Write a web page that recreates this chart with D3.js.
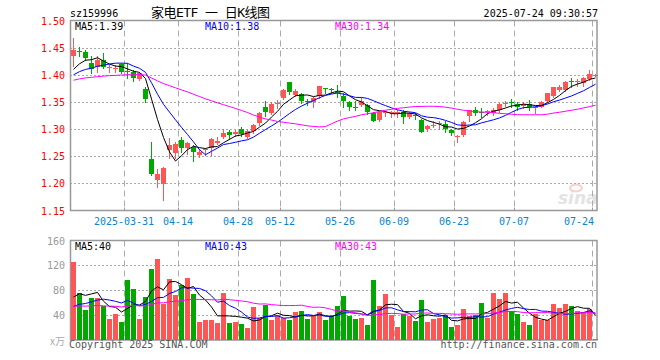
<!DOCTYPE html>
<html><head><meta charset="utf-8">
<script src="https://cdn.jsdelivr.net/npm/d3@7"></script>
<style>body{margin:0;background:#fff}svg{display:block}</style>
</head><body>
<svg id="c" width="660" height="360"></svg>
<script>
// ---------- data ----------
const dates = ["2025-03-18","2025-03-19","2025-03-20","2025-03-21","2025-03-24","2025-03-25","2025-03-26","2025-03-27","2025-03-28","2025-03-31",
"2025-04-01","2025-04-02","2025-04-03","2025-04-07","2025-04-08","2025-04-09","2025-04-10","2025-04-11","2025-04-14","2025-04-15",
"2025-04-16","2025-04-17","2025-04-18","2025-04-21","2025-04-22","2025-04-23","2025-04-24","2025-04-25","2025-04-28","2025-04-29",
"2025-04-30","2025-05-06","2025-05-07","2025-05-08","2025-05-09","2025-05-12","2025-05-13","2025-05-14","2025-05-15","2025-05-16",
"2025-05-19","2025-05-20","2025-05-21","2025-05-22","2025-05-23","2025-05-26","2025-05-27","2025-05-28","2025-05-29","2025-05-30",
"2025-06-03","2025-06-04","2025-06-05","2025-06-06","2025-06-09","2025-06-10","2025-06-11","2025-06-12","2025-06-13","2025-06-16",
"2025-06-17","2025-06-18","2025-06-19","2025-06-20","2025-06-23","2025-06-24","2025-06-25","2025-06-26","2025-06-27","2025-06-30",
"2025-07-01","2025-07-02","2025-07-03","2025-07-04","2025-07-07","2025-07-08","2025-07-09","2025-07-10","2025-07-11","2025-07-14",
"2025-07-15","2025-07-16","2025-07-17","2025-07-18","2025-07-21","2025-07-22","2025-07-23","2025-07-24"];
const opens = [1.434,1.444,1.442,1.422,1.415,1.428,1.412,1.412,1.419,1.407,
1.406,1.392,1.373,1.245,1.207,1.198,1.261,1.256,1.279,1.266,
1.267,1.252,1.261,1.266,1.274,1.285,1.295,1.290,1.301,1.286,
1.297,1.311,1.341,1.330,1.346,1.358,1.387,1.363,1.365,1.352,
1.349,1.360,1.375,1.373,1.368,1.360,1.349,1.340,1.344,1.344,
1.330,1.317,1.329,1.330,1.330,1.332,1.323,1.326,1.317,1.300,
1.306,1.311,1.310,1.299,1.286,1.289,1.324,1.335,1.331,1.333,
1.329,1.335,1.347,1.350,1.347,1.343,1.347,1.340,1.341,1.351,
1.361,1.372,1.372,1.388,1.387,1.385,1.392,1.399];
const highs = [1.467,1.452,1.445,1.434,1.434,1.440,1.418,1.418,1.422,1.422,
1.409,1.406,1.378,1.277,1.227,1.230,1.283,1.276,1.286,1.277,
1.270,1.264,1.266,1.283,1.286,1.301,1.299,1.299,1.304,1.298,
1.310,1.331,1.351,1.349,1.354,1.373,1.387,1.373,1.366,1.356,
1.359,1.380,1.3755,1.375,1.381,1.366,1.351,1.352,1.359,1.347,
1.332,1.333,1.334,1.334,1.335,1.335,1.332,1.329,1.318,1.307,
1.314,1.314,1.314,1.301,1.289,1.315,1.336,1.341,1.338,1.336,
1.338,1.348,1.352,1.355,1.349,1.349,1.354,1.343,1.351,1.367,
1.377,1.381,1.388,1.394,1.392,1.395,1.409,1.402];
const lows = [1.417,1.434,1.428,1.403,1.406,1.412,1.406,1.405,1.403,1.394,
1.388,1.390,1.349,1.216,1.193,1.169,1.246,1.246,1.258,1.255,
1.241,1.249,1.252,1.252,1.273,1.283,1.281,1.288,1.287,1.283,
1.293,1.307,1.324,1.328,1.338,1.356,1.365,1.361,1.348,1.345,
1.340,1.357,1.366,1.366,1.359,1.341,1.336,1.336,1.343,1.328,
1.314,1.315,1.324,1.323,1.323,1.312,1.320,1.318,1.295,1.297,
1.304,1.301,1.295,1.289,1.277,1.287,1.315,1.326,1.323,1.326,
1.326,1.332,1.343,1.341,1.336,1.339,1.335,1.330,1.340,1.349,
1.359,1.370,1.371,1.377,1.380,1.380,1.391,1.397];
const closes = [1.445,1.443,1.431,1.410,1.428,1.415,1.414,1.413,1.406,1.406,
1.394,1.403,1.356,1.218,1.218,1.228,1.270,1.272,1.266,1.275,
1.258,1.258,1.264,1.281,1.278,1.293,1.289,1.295,1.291,1.296,
1.307,1.329,1.332,1.347,1.348,1.372,1.369,1.371,1.352,1.350,
1.357,1.380,1.374,1.372,1.367,1.351,1.341,1.3395,1.351,1.332,
1.315,1.332,1.332,1.331,1.331,1.323,1.329,1.325,1.295,1.306,
1.307,1.312,1.301,1.293,1.287,1.313,1.335,1.330,1.330,1.334,
1.336,1.346,1.348,1.349,1.340,1.347,1.340,1.341,1.349,1.366,
1.377,1.377,1.386,1.387,1.388,1.394,1.402,1.400];
const volumes = [125,75.7,48,67,67,54,33.6,41.6,28.8,96,
81.6,33.6,69,113.6,129.6,57.6,97.6,72,88,99,
73.6,28.8,32,32,27,75,27,28.8,25.6,19,
52.8,35,56,32,40,36,32,44.8,46.4,33.6,
38.4,44.8,32,38,54,70,38,33.6,35,24,
96,54,73.6,40,20.8,41.6,38.4,30,64,28.8,
33.6,35,40,20.8,24,49.6,38.4,40,59,35,
75,65.6,75,46.4,41.6,28.8,24,41.6,32,32,
57.6,51,57.6,55,47,45,50,1.6];
// closes / volumes of the 29 sessions before the window (estimated from the MA curves)
const priorCloses = [1.37,1.375,1.38,1.39,1.385,1.39,1.395,1.39,1.385,1.40,
1.39,1.385,1.38,1.375,1.38,1.385,1.39,1.38,1.385,1.39,
1.385,1.39,1.388,1.392,1.395,1.392,1.398,1.405,1.41];
const priorVolumes = [50,62,48,55,70,45,52,60,58,47,53,66,49,51,57,44,50,62,48,53,
42,35,40,38,40,48,62,55,55];
const tickDates = ["2025-03-31","2025-04-14","2025-04-28","2025-05-12","2025-05-26","2025-06-09","2025-06-23","2025-07-07","2025-07-24"];
const tickLabels = ["2025-03-31","04-14","04-28","05-12","05-26","06-09","06-23","07-07","07-24"];
const priceTicks = [1.15,1.20,1.25,1.30,1.35,1.40,1.45,1.50];
const volTicks = [40,80,120,160];
const maPeriods = [5,10,30];
const maColors = ["#000000","#0000ff","#ff00ff"];

// ---------- layout ----------
const svg = d3.select("#c");
const L = 70, R = 598;
const P_TOP = 20.5, P_BOT = 210.5, V_TOP = 240.5, V_BOT = 340;
const RED = "#ff5555", GREEN = "#00a800";
const MONO = "'DejaVu Sans Mono', monospace";

const x = d3.scaleBand().domain(d3.range(dates.length)).range([L, R]).padding(0);
const bw = x.bandwidth();
const y = d3.scaleLinear().domain([1.15, 1.50]).range([P_BOT, P_TOP]);
const yv = d3.scaleLinear().domain([0, 160]).range([V_BOT, V_TOP]);

function movingAvg(prior, vals, n) {
  const all = prior.concat(vals), off = prior.length;
  return vals.map((_, i) => d3.mean(all.slice(off + i - n + 1, off + i + 1)));
}
const priceMA = maPeriods.map(n => movingAvg(priorCloses, closes, n));
const volMA = maPeriods.map(n => movingAvg(priorVolumes, volumes, n));

svg.append("rect").attr("width",660).attr("height",360).attr("fill","#fff");

// watermark
const wm = svg.append("g").attr("opacity",0.5);
wm.append("text").attr("x",558).attr("y",204).attr("font-family","'DejaVu Sans', sans-serif")
  .attr("font-size",17).attr("font-style","italic").attr("font-weight","bold").attr("fill","#c8c8c8").text("sina");
wm.append("ellipse").attr("cx",576).attr("cy",188).attr("rx",6).attr("ry",3.5).attr("fill","none").attr("stroke","#f2a0a0").attr("stroke-width",2);

// grids
function hgrid(vals, sc) {
  svg.append("g").selectAll("line").data(vals).join("line")
    .attr("x1", L).attr("x2", R - 1)
    .attr("y1", d => Math.round(sc(d)) + 0.5).attr("y2", d => Math.round(sc(d)) + 0.5)
    .attr("stroke", "#aaa").attr("stroke-dasharray", "2,2");
}
hgrid(priceTicks.filter(d => d > 1.151 && d < 1.499), y);
hgrid(volTicks.filter(d => d < 160), yv);
const tickIdx = tickDates.map(d => dates.indexOf(d));
[[P_TOP, P_BOT], [V_TOP, V_BOT]].forEach(([t, b]) => {
  svg.append("g").selectAll("line").data(tickIdx).join("line")
    .attr("x1", i => x(i) + 0.5).attr("x2", i => x(i) + 0.5)
    .attr("y1", t).attr("y2", b)
    .attr("stroke", "#aaa").attr("stroke-dasharray", "6,4");
});

// borders
[[P_TOP, P_BOT], [V_TOP, V_BOT]].forEach(([t, b]) => {
  svg.append("rect").attr("x", L + 0.5).attr("y", t).attr("width", R - L - 1.5).attr("height", b - t)
    .attr("fill", "none").attr("stroke", "#999").attr("stroke-width", 1.5);
});
// bottom ticks
svg.append("g").selectAll("line").data(tickIdx).join("line")
  .attr("x1", i => x(i) + 0.5).attr("x2", i => x(i) + 0.5)
  .attr("y1", P_BOT - 3).attr("y2", P_BOT).attr("stroke", "#999");

// candles
const cg = svg.append("g");
dates.forEach((d, i) => {
  const up = closes[i] >= opens[i];
  const col = up ? RED : GREEN;
  const cx = x(i) + 3.5;
  cg.append("line").attr("x1", cx).attr("x2", cx)
    .attr("y1", Math.round(y(highs[i]))).attr("y2", Math.round(y(lows[i])) + 1)
    .attr("stroke", col);
  const t = Math.round(y(Math.max(opens[i], closes[i])));
  const b = Math.round(y(Math.min(opens[i], closes[i])));
  cg.append("rect").attr("x", x(i) + 1).attr("y", t).attr("width", bw - 1).attr("height", Math.max(1, b - t))
    .attr("fill", col);
  const vt = Math.round(yv(volumes[i]));
  cg.append("rect").attr("x", x(i) + 1).attr("y", vt).attr("width", bw - 1).attr("height", Math.max(1, V_BOT - vt))
    .attr("fill", col);
});

// MA lines
const lineP = d3.line().x((d, i) => x(i) + 3.5).y(d => y(d));
const lineV = d3.line().x((d, i) => x(i) + 3.5).y(d => yv(d));
maPeriods.forEach((n, k) => {
  svg.append("path").attr("d", lineP(priceMA[k])).attr("fill", "none").attr("stroke", maColors[k]).attr("stroke-width", 1);
  svg.append("path").attr("d", lineV(volMA[k])).attr("fill", "none").attr("stroke", maColors[k]).attr("stroke-width", 1);
});

// axis labels
const pl = svg.append("g").attr("font-family", MONO).attr("font-size", 10).attr("fill", "#ff0000").attr("text-anchor", "end");
priceTicks.forEach(p => pl.append("text").attr("x", 65).attr("y", y(p) + 4).text(p.toFixed(2)));
const vl = svg.append("g").attr("font-family", MONO).attr("font-size", 10).attr("fill", "#999").attr("text-anchor", "end");
volTicks.forEach(v => vl.append("text").attr("x", 65).attr("y", yv(v) + 4).text(v));
vl.append("text").attr("x", 65).attr("y", 345).attr("font-family","'Noto Sans CJK SC', sans-serif").attr("fill","#aaa").text("x万");

const xl = svg.append("g").attr("font-family", MONO).attr("font-size", 10).attr("fill", "#0a84d0").attr("text-anchor", "middle");
tickIdx.forEach((i, k) => {
  const w = tickLabels[k].length * 6.02;
  let cx = x(i);
  if (cx + w / 2 > R - 4) cx = R - 4 - w / 2;
  xl.append("text").attr("x", cx).attr("y", 225).text(tickLabels[k]);
});

// headers
const hdr = svg.append("g").attr("font-family", MONO).attr("font-size", 10).attr("fill", "#000");
hdr.append("text").attr("x", 70).attr("y", 17).text("sz159996");
hdr.append("text").attr("x", 598).attr("y", 17).attr("text-anchor", "end").text("2025-07-24 09:30:57");
svg.append("text").attr("x", 151).attr("y", 17).attr("xml:space", "preserve")
  .attr("font-family", "'DejaVu Sans Mono', 'Noto Sans CJK SC', monospace")
  .attr("textLength", 119).attr("lengthAdjust", "spacing")
  .attr("font-size", 13).attr("fill", "#000").text("家电ETF 一 日K线图");

const maLabX = [75, 205, 335];
maPeriods.forEach((n, k) => {
  svg.append("text").attr("x", maLabX[k]).attr("y", 30).attr("font-family", MONO).attr("font-size", 10)
    .attr("fill", maColors[k]).text("MA" + n + ":" + priceMA[k][closes.length - 1].toFixed(2));
  svg.append("text").attr("x", maLabX[k]).attr("y", 250).attr("font-family", MONO).attr("font-size", 10)
    .attr("fill", maColors[k]).text("MA" + n + ":" + Math.round(volMA[k][volumes.length - 1]));
});

svg.append("text").attr("x", 69).attr("y", 348).attr("font-family", MONO).attr("font-size", 10).attr("fill", "#555")
  .text("Copyright 2025 SINA.COM");
svg.append("text").attr("x", 597).attr("y", 348).attr("text-anchor", "end").attr("font-family", MONO).attr("font-size", 10).attr("fill", "#555")
  .text("http://finance.sina.com.cn");
</script>
</body></html>
